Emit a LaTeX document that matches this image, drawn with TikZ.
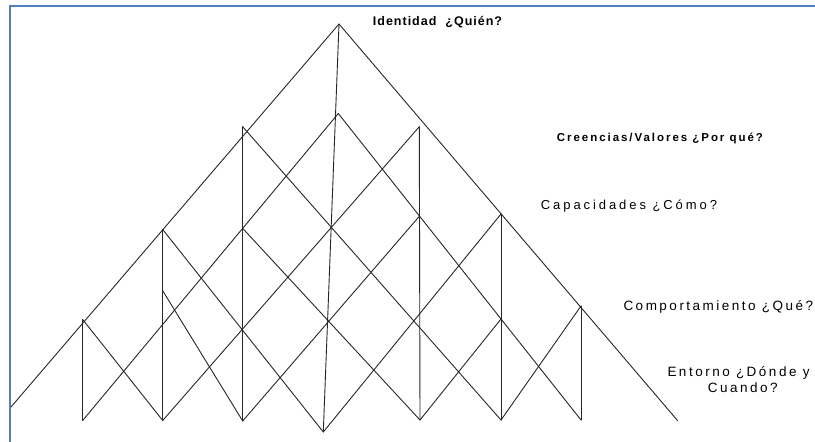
\documentclass[tikz,border=0pt]{standalone}
\usepackage{fontspec}
\setmainfont{Liberation Sans}
\newfontfamily\fA[LetterSpace=8]{Liberation Sans}
\newfontfamily\fB[LetterSpace=17]{Liberation Sans}
\newfontfamily\fC[LetterSpace=22.5]{Liberation Sans}
\newfontfamily\fD[LetterSpace=18.5]{Liberation Sans}
\definecolor{frameblue}{RGB}{79,129,189}
\begin{document}
\begin{tikzpicture}[x=1pt,y=-1pt,
  lat/.style={line width=0.9pt, draw=black!85, line cap=round, line join=round},
  frameline/.style={line width=2pt, draw=frameblue},
  lbl/.style={inner sep=0pt, anchor=base west, text=black}]
\useasboundingbox (0,0) rectangle (815,442);
% frame
\coordinate (fb) at (10,442);
\coordinate (fc) at (10,5.5);
\coordinate (fr) at (815,5.5);
\draw[frameline] (fb) -- (fc) -- (fr);
% main points
\coordinate (A) at (339,24);
\coordinate (L) at (11,407);
\coordinate (R) at (677.5,420.5);
\coordinate (P) at (338.3,113.5);
\coordinate (C) at (323.3,432);
\coordinate (t1) at (82.7,319.5);  \coordinate (b1) at (82.7,420.5);
\coordinate (t2) at (162.7,229.5); \coordinate (b2) at (162.7,420.5);
\coordinate (o2) at (162.7,290.7);
\coordinate (t3) at (242.7,126.7); \coordinate (b3) at (242.7,421);
\coordinate (t5) at (419.3,126.7); \coordinate (b5) at (420,420);
\coordinate (t6) at (501,214);     \coordinate (b6) at (501,420);
\coordinate (t7) at (581,306);     \coordinate (b7) at (581,420);
\coordinate (m3) at (intersection of b1--P and t3--b3);
\coordinate (m5) at (intersection of P--b7 and t5--b5);
\coordinate (m6) at (intersection of P--b7 and t6--b6);
% outline and centre
\draw[lat] (L) -- (A) -- (R);
\draw[lat] (A) -- (C);
% verticals
\draw[lat] (t1) -- (b1);
\draw[lat] (t2) -- (b2);
\draw[lat] (t3) -- (b3);
\draw[lat] (t5) -- (b5);
\draw[lat] (t6) -- (b6);
\draw[lat] (t7) -- (b7);
% diagonals
\draw[lat] (b1) -- (P) -- (b7);
\draw[lat] (b2) -- (t5);
\draw[lat] (t3) -- (b6);
\draw[lat] (t2) -- (C) -- (t6);
\draw[lat] (t1) -- (b2);
\draw[lat] (t7) -- (b6);
\draw[lat] (m3) -- (b5);
\draw[lat] (m5) -- (b3);
\draw[lat] (o2) -- (b3);
\draw[lat] (b5) -- (m6);
% labels
\node[lbl] (identidad) at (372.7,25) {\fA\bfseries\fontsize{12.5}{15}\selectfont Identidad\ \ ¿Quién?};
\node[lbl] (creencias) at (556.7,141.7) {\fB\bfseries\fontsize{11.5}{14}\selectfont Creencias/Valores ¿Por qué?};
\node[lbl] (capacidades) at (540.7,209.5) {\fC\fontsize{13}{15}\selectfont Capacidades ¿Cómo?};
\node[lbl] (comportamiento) at (623.3,310.7) {\fD\fontsize{13.5}{16}\selectfont Comportamiento ¿Qué?};
\node[lbl] (entorno1) at (667.3,376.7) {\fD\fontsize{13.5}{16}\selectfont Entorno ¿Dónde y};
\node[lbl] (entorno2) at (707.7,392.3) {\fD\fontsize{13.5}{16}\selectfont Cuando?};
\end{tikzpicture}
\end{document}
